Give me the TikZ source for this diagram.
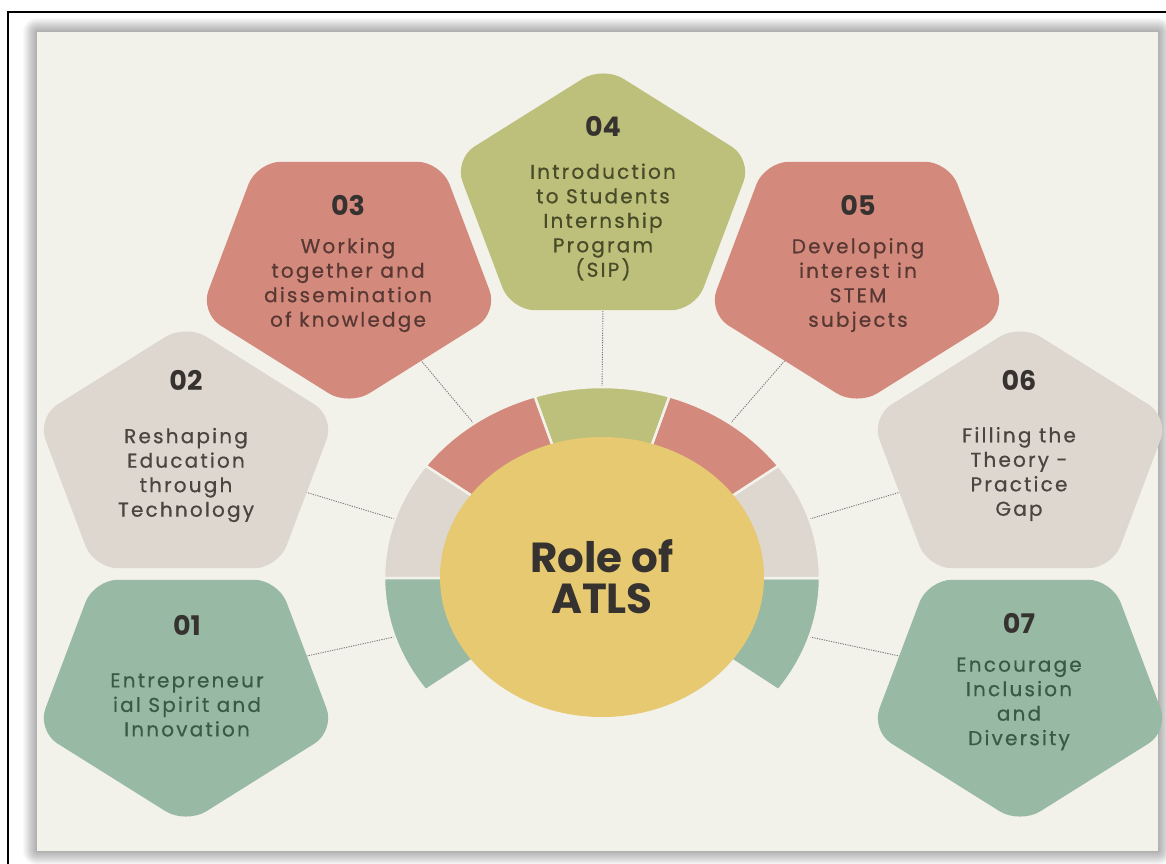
\documentclass[tikz,border=0pt]{standalone}
\usepackage{fontspec}
\setmainfont{Poppins}
\newfontfamily\bodyfont{Poppins}[LetterSpace=11,FakeBold=0.6]
\usetikzlibrary{calc,shapes.geometric}

\definecolor{panelbg}{HTML}{F2F1EA}
\definecolor{sage}{HTML}{98B9A3}
\definecolor{stone}{HTML}{DDD7CF}
\definecolor{coral}{HTML}{D3897C}
\definecolor{olivey}{HTML}{BCC07B}
\definecolor{mustard}{HTML}{E7C972}
\definecolor{numcol}{HTML}{363230}
\definecolor{sagetext}{HTML}{3A5A46}
\definecolor{stonetext}{HTML}{4A4541}
\definecolor{coraltext}{HTML}{583833}
\definecolor{olivetext}{HTML}{484B28}
\definecolor{linkcol}{HTML}{7A7A76}

% rounded, slightly widened pentagon: centre, angle of first corner, fill
\newcommand{\pentagon}[3]{%
  \fill[#3, rounded corners=24pt, shift={(#1)}, xscale=1.16]
    ({#2+36}:109.2) -- ({#2+72}:135) -- ({#2+144}:135) -- ({#2+216}:135)
    -- ({#2+288}:135) -- (#2:135) -- cycle;}

\begin{document}
\begin{tikzpicture}[x=1pt,y=-1pt,
    num/.style={font={\fontsize{27}{30}\selectfont\bfseries},text=numcol},
    body/.style={font={\bodyfont\fontsize{20}{24.5}\selectfont},align=center},
    hub/.style={ellipse,fill=mustard,minimum width=324pt,minimum height=280pt,inner sep=0pt,
      font={\fontsize{42}{43}\selectfont\bfseries},text=numcol,align=center},
    link/.style={draw=linkcol,line width=0.9pt,dash pattern=on 1.2pt off 1.2pt}]

  \useasboundingbox (0,0) rectangle (1166,863);
  \fill[white] (0,0) rectangle (1166,863);
  \draw[black,line width=1.5pt] (8,12) rectangle (1190,890);

  % soft glow round the panel
  \foreach \k in {1,...,14}
    \fill[black,opacity=0.025,rounded corners=\k pt] (37-\k,32-\k) rectangle (1158+\k,851+\k);
  \fill[panelbg] (37,32) rectangle (1158,851);

  % pentagon centres
  \coordinate (c1) at (186,689);
  \coordinate (c2) at (186,459);
  \coordinate (c3) at (349,271);
  \coordinate (c4) at (603,201);
  \coordinate (c5) at (857,271);
  \coordinate (c6) at (1020,459);
  \coordinate (c7) at (1020,689);

  % ring points and pentagon ends of the links
  \foreach \i/\a in {1/198,2/162,3/126,4/90,5/54,6/18,7/-18}
    \coordinate (r\i) at ({602+216*cos(\a)},{578-189*sin(\a)});
  \coordinate (e1) at (302,657);
  \coordinate (e2) at (302,491);
  \coordinate (e3) at (419,358);
  \coordinate (e4) at (603,306);
  \coordinate (e5) at (787,358);
  \coordinate (e6) at (904,491);
  \coordinate (e7) at (904,657);

  \foreach \i in {1,...,7}
    \draw[link] (r\i) -- (e\i);

  % segmented ring
  \foreach \a/\c in {-36/sage,0/stone,36/coral,72/olivey,108/coral,144/stone,180/sage}
    \fill[\c,draw=panelbg,line width=2.5pt]
      ({602+218*cos(\a)},{578-191*sin(\a)})
        arc[start angle=-\a,end angle=-\a-36,x radius=218,y radius=191]
      -- ({602+150*cos(\a+36)},{578-130*sin(\a+36)})
        arc[start angle=-\a-36,end angle=-\a,x radius=150,y radius=130] -- cycle;

  \node[hub] (hub) at (602,577) {Role of\\[-2pt]ATLS};

  % pentagons
  \pentagon{c1}{90}{sage}
  \pentagon{c2}{270}{stone}
  \pentagon{c3}{90}{coral}
  \pentagon{c4}{270}{olivey}
  \pentagon{c5}{90}{coral}
  \pentagon{c6}{270}{stone}
  \pentagon{c7}{90}{sage}

  \node[num] (n1) at (187,625) {01};
  \node[body,text=sagetext] (t1) at (187,705) {Entrepreneur\\ial Spirit and\\Innovation};

  \node[num] (n2) at (186,380) {02};
  \node[body,text=stonetext] (t2) at (186,475) {Reshaping\\Education\\through\\Technology};

  \node[num] (n3) at (348,205) {03};
  \node[body,text=coraltext] (t3) at (348,285) {Working\\together and\\dissemination\\of knowledge};

  \node[num] (n4) at (603,126) {04};
  \node[body,text=olivetext] (t4) at (603,222) {Introduction\\to Students\\Internship\\Program\\(SIP)};

  \node[num] (n5) at (858,205) {05};
  \node[body,text=coraltext] (t5) at (858,285) {Developing\\interest in\\STEM\\subjects};

  \node[num] (n6) at (1019,380) {06};
  \node[body,text=stonetext] (t6) at (1019,474) {Filling the\\Theory -\\Practice\\Gap};

  \node[num] (n7) at (1019,623) {07};
  \node[body,text=sagetext] (t7) at (1019,704) {Encourage\\Inclusion\\and\\Diversity};
\end{tikzpicture}
\end{document}
